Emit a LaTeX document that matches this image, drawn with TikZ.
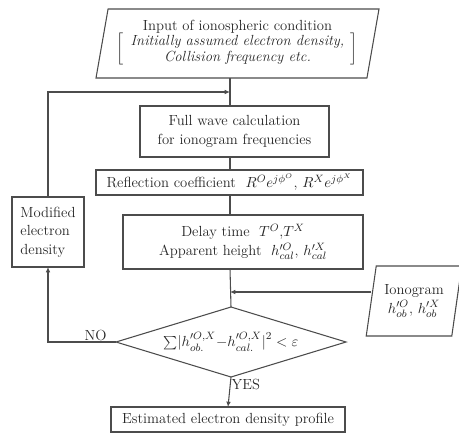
\documentclass[tikz,border=0pt]{standalone}
\usetikzlibrary{shapes.geometric,arrows.meta}
\begin{document}
\begin{tikzpicture}[x=0.75pt,y=-0.75pt,font=\fontsize{11}{14}\selectfont]
  \tikzstyle{every node}=[draw=black!70,line width=0.8pt,align=center,inner sep=1pt,outer sep=0pt,text=black!85]
  \tikzstyle{box}=[rectangle]
  \tikzstyle{iobox}=[trapezium,trapezium left angle=77,trapezium right angle=103,trapezium stretches=true]
  \tikzstyle{test}=[diamond,inner sep=0pt,aspect=3.3]
  \tikzstyle{line}=[draw=black!70,line width=0.8pt]
  \tikzstyle{arrow}=[line,-{Latex[length=4pt,width=3.5pt]}]
  \tikzstyle{tag}=[draw=none]
  \clip (0,0) rectangle (459,432);
  \coordinate (mid) at (230,0);
  \coordinate (back) at (230,92);
  \coordinate (obs) at (230,292);
  \node[iobox,minimum width=283*0.75pt,minimum height=69*0.75pt] (input) at (237.5,43.5)
    {Input of ionospheric condition\\[-2pt]
     $\left[\begin{array}{c}\textit{Initially assumed electron density,}\\[-2pt]
     \textit{Collision frequency etc.}\end{array}\right]$};
  \node[box,minimum width=189*0.75pt,minimum height=51*0.75pt] (full) at (234.5,131.5)
    {Full wave calculation\\for ionogram frequencies};
  \node[box,minimum width=267*0.75pt,minimum height=25*0.75pt] (refl) at (229.5,182.5)
    {Reflection coefficient \ $R^{O}e^{j\phi^{O}}$, $R^{X}e^{j\phi^{X}}$};
  \node[box,minimum width=240*0.75pt,minimum height=54*0.75pt] (delay) at (243,242)
    {Delay time \ $T^{O}$,$T^{X}$\\Apparent height \ $h'^{O}_{cal}$, $h'^{X}_{cal}$};
  \node[box,minimum width=72*0.75pt,minimum height=70*0.75pt,align=left] (modif) at (48,232)
    {Modified\\electron\\density};
  \node[test,minimum width=230*0.75pt,minimum height=70*0.75pt] (check) at (231,342)
    {$\sum\bigl|h'^{O,X}_{ob.}{-}h'^{O,X}_{cal.}\bigr|^2<\varepsilon$};
  \node[iobox,minimum width=96*0.75pt,minimum height=70*0.75pt] (iono) at (414,301)
    {Ionogram\\$h'^{O}_{ob}$, $h'^{X}_{ob}$};
  \node[box,minimum width=234*0.75pt,minimum height=25*0.75pt] (result) at (228,419.5)
    {Estimated electron density profile};
  % main column
  \draw[line] (input.south -| mid) -- (full.north -| mid);
  \draw[line] (full.south -| mid) -- (refl.north -| mid);
  \draw[line] (refl.south -| mid) -- (delay.north -| mid);
  \draw[line] (delay.south -| mid) -- (check.north);
  \draw[arrow] (check.south) -- node[tag,right,pos=0.25] {YES} (result.north);
  % loop back
  \draw[arrow] (check.west) -| node[tag,above,pos=0.15] {NO} (modif.south);
  \draw[arrow] (modif.north) |- (back);
  \draw[arrow] (iono.west |- obs) -- (obs);
\end{tikzpicture}
\end{document}
